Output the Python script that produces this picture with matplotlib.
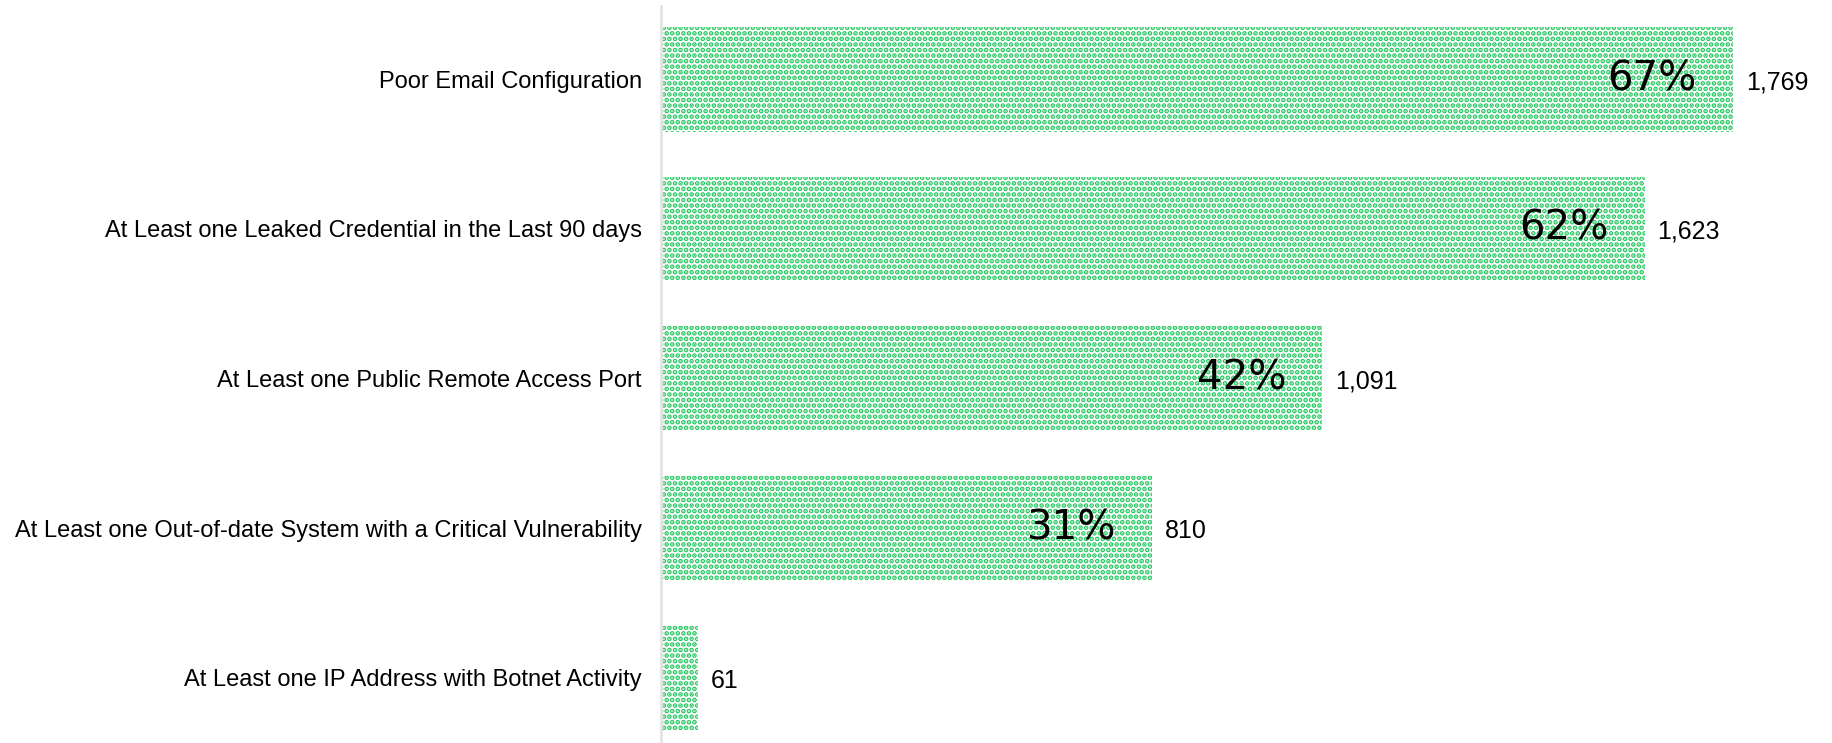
import numpy as np
import matplotlib
matplotlib.use('Agg')
import matplotlib.pyplot as plt

categories = [
    'Poor Email Configuration',
    'At Least one Leaked Credential in the Last 90 days',
    'At Least one Public Remote Access Port',
    'At Least one Out-of-date System with a Critical Vulnerability',
    'At Least one IP Address with Botnet Activity',
]
counts = [1769, 1623, 1091, 810, 61]
pct_labels = ['67%', '62%', '42%', '31%', '']

GREEN = '#25c860'
plt.rcParams['hatch.linewidth'] = 2.4

fig = plt.figure(figsize=(18.32, 7.43), dpi=100)
ax = fig.add_axes([0.361, 0.0, 0.639, 0.992])

y = np.arange(len(categories))
bars = ax.barh(y, counts, height=0.70, facecolor='white', edgecolor=GREEN,
               hatch='...', linewidth=0)

ax.set_xlim(0, 1932)
ax.set_ylim(4.435, -0.49)
ax.set_yticks(y)
ax.set_yticklabels(categories, fontsize=17, family='Liberation Sans')
ax.tick_params(axis='y', length=0, pad=14)
ax.set_xticks([])
for s in ['top', 'right', 'bottom']:
    ax.spines[s].set_visible(False)
ax.spines['left'].set_color('#e3e3e3')
ax.spines['left'].set_linewidth(2)

for yi, c, p in zip(y, counts, pct_labels):
    ax.annotate(f'{c:,}', (c, yi), xytext=(9, -2), textcoords='offset points',
                ha='left', va='center', fontsize=18, family='Liberation Sans')
    if p:
        ax.annotate(p, (c, yi), xytext=(-26, 0), textcoords='offset points',
                    ha='right', va='center', fontsize=29)

fig.savefig('out.png', dpi=100)
